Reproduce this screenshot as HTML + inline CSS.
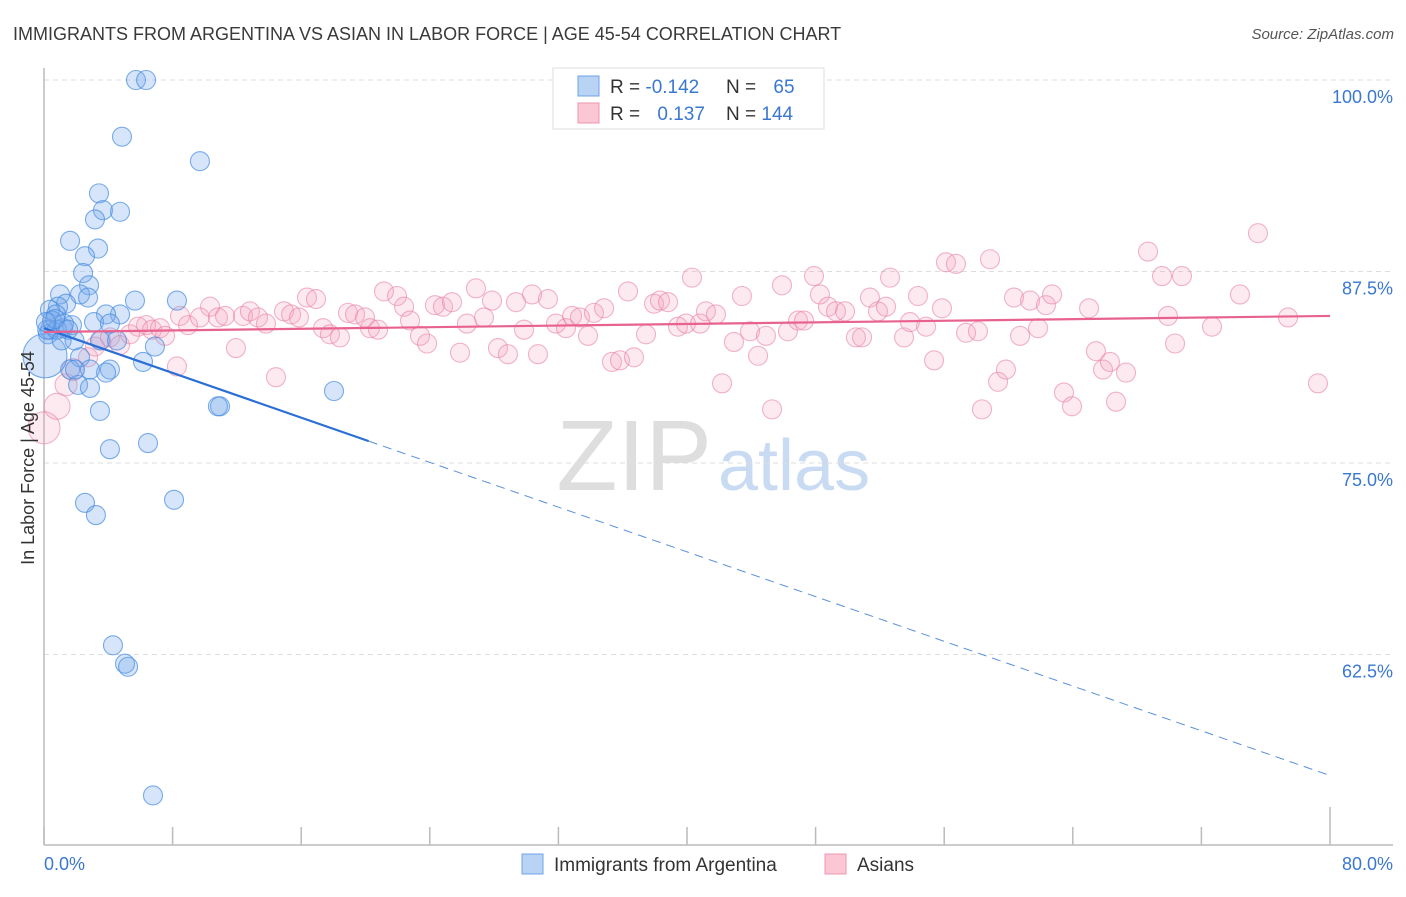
<!DOCTYPE html>
<html><head><meta charset="utf-8"><style>
body{margin:0;background:#fff;font-family:"Liberation Sans",sans-serif;}
svg text{font-family:"Liberation Sans",sans-serif;}
</style></head><body>
<svg id="chart" width="1406" height="892" xmlns="http://www.w3.org/2000/svg">
<text x="13" y="40" font-size="18" fill="#3a3a3a">IMMIGRANTS FROM ARGENTINA VS ASIAN IN LABOR FORCE | AGE 45-54 CORRELATION CHART</text>
<text x="1394" y="39" font-size="15" fill="#555" font-style="italic" text-anchor="end">Source: ZipAtlas.com</text>
<g>
<text x="712" y="490" font-size="100" fill="#d6d6d6" font-family="Liberation Serif" text-anchor="end" opacity="0.8">ZIP</text>
<text x="718" y="490" font-size="72" fill="#bcd3ef" opacity="0.8">atlas</text>
</g>
<g id="grid"></g>
<g id="axes"></g>
<g id="pts"></g>
<g id="lines"></g>
<text transform="translate(34,458) rotate(-90)" font-size="18" fill="#333" text-anchor="middle">In Labor Force | Age 45-54</text>
<g>
<rect x="553" y="68" width="271" height="61" fill="#fff" stroke="#ddd"/>
<rect x="578" y="76" width="21" height="20" fill="#b9d3f5" stroke="#6fa3e6"/>
<rect x="578" y="103" width="21" height="20" fill="#fbc7d5" stroke="#ec94b0"/>
<text x="610" y="93" font-size="19" fill="#333">R = <tspan fill="#3a78d0">-0.142</tspan></text>
<text x="726" y="93" font-size="19" fill="#333">N = <tspan fill="#3a78d0" dx="12">65</tspan></text>
<text x="610" y="120" font-size="19" fill="#333">R = <tspan fill="#3a78d0" dx="12">0.137</tspan></text>
<text x="726" y="120" font-size="19" fill="#333">N = <tspan fill="#3a78d0">144</tspan></text>
</g>
<g>
<rect x="522" y="854" width="21" height="20" fill="#b9d3f5" stroke="#6fa3e6"/>
<text x="554" y="871" font-size="19" fill="#333">Immigrants from Argentina</text>
<rect x="825" y="854" width="21" height="20" fill="#fbc7d5" stroke="#ec94b0"/>
<text x="857" y="871" font-size="19" fill="#333">Asians</text>
</g>
</svg>
<script>
const yTicks=[100,87.5,75,62.5];
const yTickLabels=["100.0%","87.5%","75.0%","62.5%"];
const xTicks=[0,8,16,24,32,40,48,56,64,72,80];
const blueX=[5.72,6.35,4.85,9.7,3.42,3.67,4.73,3.17,3.36,1.62,2.55,2.43,2.8,2.24,1.0,2.74,1.37,0.87,0.37,0.75,5.66,8.27,4.73,3.86,3.11,4.1,1.74,1.18,0.37,0.25,3.48,4.54,6.9,2.24,1.62,2.12,2.86,4.1,3.86,6.16,1.93,18.04,10.95,10.82,3.48,4.1,6.47,2.55,8.09,3.23,4.29,5.04,5.23,6.78,0.06,0.2,0.5,0.8,1.24,0.7,1.5,1.1,0.12,1.9,2.86];
const blueY=[100,100,96.3,94.7,92.6,91.5,91.4,90.9,89.0,89.5,88.5,87.4,86.6,86.0,86.0,85.8,85.4,85.2,85.0,84.7,85.6,85.6,84.7,84.7,84.2,84.1,84.0,83.8,83.7,83.4,83.0,83.0,82.6,81.9,81.1,80.1,79.9,81.1,80.9,81.6,81.1,79.7,78.7,78.7,78.4,75.9,76.3,72.4,72.6,71.6,63.1,61.9,61.7,53.3,82.0,83.7,84.3,83.7,84.1,84.4,83.7,83.0,84.2,83.0,81.1];
const pinkX=[0,0.81,1.37,1.8,2.74,3.17,3.55,4.1,4.73,5.35,5.85,6.35,6.72,7.22,7.53,8.27,8.46,8.96,9.7,10.33,10.82,11.26,11.94,12.38,12.81,13.31,13.81,14.43,14.93,15.37,15.86,16.36,16.92,17.36,17.79,18.41,18.91,19.35,19.97,20.28,20.78,21.15,21.96,22.4,22.77,23.39,23.83,24.32,24.82,25.38,25.88,26.31,26.87,27.37,27.87,28.24,28.86,29.36,29.86,30.36,30.73,31.35,31.85,32.47,32.85,33.34,33.84,34.21,34.84,35.33,35.83,36.33,36.7,37.45,37.95,38.32,38.82,39.44,39.94,40.31,40.81,41.18,41.8,42.18,42.92,43.42,43.92,44.42,44.91,45.29,45.91,46.28,46.91,47.28,47.9,48.27,48.77,49.27,49.83,50.51,50.89,51.38,51.88,52.38,52.63,53.5,53.87,54.37,54.87,55.37,55.86,56.11,56.73,57.36,58.1,58.35,58.85,59.35,59.84,60.34,60.72,61.34,61.84,62.33,62.71,63.45,63.95,65.01,65.44,65.88,66.31,66.69,67.31,68.68,69.55,69.92,70.36,70.79,72.66,74.4,75.52,77.39,79.25];
const pinkY=[77.3,78.7,80.1,81.1,81.9,82.6,83.0,83.2,82.7,83.4,83.9,84.0,83.7,83.8,83.3,81.3,84.6,84.0,84.5,85.2,84.5,84.6,82.5,84.6,84.9,84.5,84.1,80.6,84.9,84.7,84.5,85.8,85.7,83.8,83.4,83.2,84.8,84.7,84.5,83.8,83.7,86.2,85.9,85.2,84.3,83.3,82.8,85.3,85.2,85.5,82.2,84.1,86.4,84.5,85.6,82.5,82.1,85.5,83.7,86.0,82.1,85.7,84.1,83.8,84.6,84.5,83.3,84.8,85.1,81.6,81.7,86.2,81.9,83.4,85.4,85.6,85.5,83.9,84.1,87.1,84.1,84.9,84.7,80.2,82.9,85.9,83.6,82.0,83.3,78.5,86.6,83.6,84.3,84.3,87.2,86.0,85.2,84.9,84.9,83.2,83.2,85.8,84.9,85.2,87.1,83.2,84.2,85.9,83.9,81.7,85.1,88.1,88.0,83.5,83.6,78.5,88.3,80.3,81.1,85.8,83.3,85.6,83.8,85.3,86.0,79.6,78.7,85.1,82.3,81.1,81.6,79.0,80.9,88.8,87.2,84.6,82.8,87.2,83.9,86.0,90.0,84.5,80.2];
const blueTrend=[83.8,54.6]; // values at x=0 and x=80
const blueSolidEnd=20.2;
const pinkTrend=[83.55,84.6];
const X=v=>44+v*(1286/80);
const Y=v=>80+(100-v)*(191.5/12.5);
const NS="http://www.w3.org/2000/svg";
function mk(tag,attrs,parent){const e=document.createElementNS(NS,tag);for(const k in attrs)e.setAttribute(k,attrs[k]);parent.appendChild(e);return e;}
const grid=document.getElementById('grid'),axes=document.getElementById('axes'),pts=document.getElementById('pts'),lines=document.getElementById('lines');
yTicks.forEach((t,i)=>{
 const l=mk('line',{x1:44,x2:1393,y1:Y(t),y2:Y(t),stroke:'#ddd','stroke-dasharray':'5,4'},grid);
 
 
 const tx=mk('text',{x:1393,y:Y(t)+23,'font-size':18,fill:'#3a78d0','text-anchor':'end'},axes);
 tx.textContent=yTickLabels[i];
 
 
});
mk('line',{x1:44,x2:44,y1:68,y2:845,stroke:'#bbb','stroke-width':1.5},axes);
mk('line',{x1:44,x2:1393,y1:845,y2:845,stroke:'#bbb','stroke-width':1.5},axes);
xTicks.forEach((t,i)=>{
 const l=mk('line',{x1:X(t),x2:X(t),y1:(i==xTicks.length-1?807:827),y2:845,stroke:'#bbb','stroke-width':1.5},axes);
 
 
});
const xl0=mk('text',{x:44,y:870,'font-size':18,fill:'#3a78d0'},axes);xl0.textContent='0.0%';


const xl1=mk('text',{x:1393,y:870,'font-size':18,fill:'#3a78d0','text-anchor':'end'},axes);xl1.textContent='80.0%';


pinkX.forEach((v,i)=>{
 const r=i==0?16:(i==1?13:(i<4?11:9.5));
 const c=mk('circle',{cx:X(v),cy:Y(pinkY[i]),r:r,fill:'rgba(244,160,188,0.22)',stroke:'rgba(232,130,165,0.6)','stroke-width':1.1},pts);
 
 
});
blueX.forEach((v,i)=>{
 const r=i==54?22:9.5;
 const c=mk('circle',{cx:X(v),cy:Y(blueY[i]),r:r,fill:'rgba(120,170,235,0.3)',stroke:'rgba(70,140,225,0.7)','stroke-width':1.1},pts);
 
 
});
const bAt=x=>blueTrend[0]+(blueTrend[1]-blueTrend[0])*x/80;
const bs=mk('line',{x1:X(0),y1:Y(bAt(0)),x2:X(blueSolidEnd),y2:Y(bAt(blueSolidEnd)),stroke:'#2a6fd6','stroke-width':2.2},lines);


const bd=mk('line',{x1:X(blueSolidEnd),y1:Y(bAt(blueSolidEnd)),x2:X(80),y2:Y(bAt(80)),stroke:'#5a8fdc','stroke-width':1,'stroke-dasharray':'9,6'},lines);


const pl=mk('line',{x1:X(0),y1:Y(pinkTrend[0]),x2:X(80),y2:Y(pinkTrend[1]),stroke:'#e8628f','stroke-width':2.2},lines);


</script>
</body></html>
